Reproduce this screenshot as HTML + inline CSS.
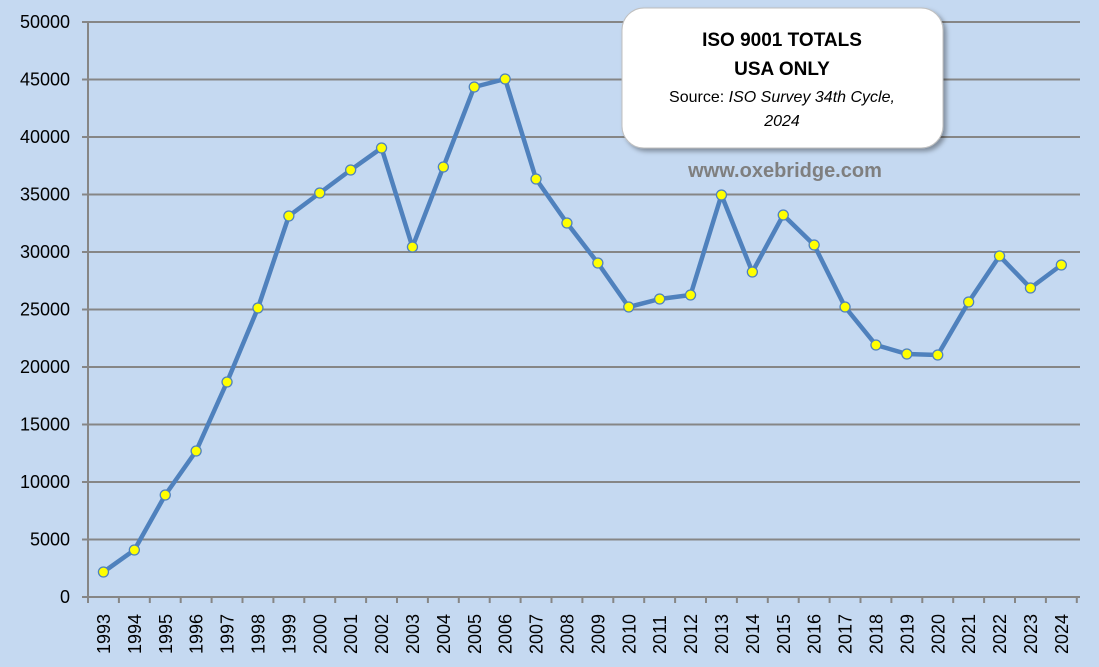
<!DOCTYPE html>
<html><head><meta charset="utf-8"><style>
html,body{margin:0;padding:0;background:#c5d9f1;}
svg{display:block;font-family:"Liberation Sans",Calibri,sans-serif;}
</style></head><body>
<svg width="1099" height="667" viewBox="0 0 1099 667" xmlns="http://www.w3.org/2000/svg">
<defs><filter id="sh" x="-10%" y="-10%" width="125%" height="130%"><feDropShadow dx="3" dy="3" stdDeviation="2.5" flood-color="#000" flood-opacity="0.35"/></filter></defs>
<rect width="1099" height="667" fill="#c5d9f1"/>
<g stroke="#868686" stroke-width="2">
<line x1="82" y1="22" x2="1080" y2="22"/>
<line x1="82" y1="79.5" x2="1080" y2="79.5"/>
<line x1="82" y1="137" x2="1080" y2="137"/>
<line x1="82" y1="194.5" x2="1080" y2="194.5"/>
<line x1="82" y1="252" x2="1080" y2="252"/>
<line x1="82" y1="309.5" x2="1080" y2="309.5"/>
<line x1="82" y1="367" x2="1080" y2="367"/>
<line x1="82" y1="424.5" x2="1080" y2="424.5"/>
<line x1="82" y1="482" x2="1080" y2="482"/>
<line x1="82" y1="539.5" x2="1080" y2="539.5"/>
<line x1="82" y1="597" x2="1080" y2="597"/>
<line x1="88" y1="22" x2="88" y2="603"/>
</g>
<g stroke="#868686" stroke-width="2" id="ticks"></g>
<g font-size="18" fill="#000" text-anchor="end">
<text x="70" y="28">50000</text><text x="70" y="85.5">45000</text><text x="70" y="143">40000</text><text x="70" y="200.5">35000</text><text x="70" y="258">30000</text><text x="70" y="315.5">25000</text><text x="70" y="373">20000</text><text x="70" y="430.5">15000</text><text x="70" y="488">10000</text><text x="70" y="545.5">5000</text><text x="70" y="603">0</text>
</g>
<g id="xl" font-size="18" fill="#000"></g>
<polyline id="ln" fill="none" stroke="#4f81bd" stroke-width="4.5" stroke-linejoin="round" points=""/>
<g id="pts"></g>
<rect x="622" y="8" width="321" height="140" rx="22" fill="#fff" stroke="#bfbfbf" stroke-width="1" filter="url(#sh)"/>
<g text-anchor="middle" fill="#000">
<text x="782" y="46" font-size="19" font-weight="bold">ISO 9001 TOTALS</text>
<text x="782" y="75" font-size="19" font-weight="bold">USA ONLY</text>
<text x="782" y="102" font-size="16">Source: <tspan font-style="italic">ISO Survey 34th Cycle,</tspan></text>
<text x="782" y="126" font-size="16" font-style="italic">2024</text>
<text x="785" y="177" font-size="20" font-weight="bold" fill="#7f7f7f">www.oxebridge.com</text>
</g>
<script>
var ys=[572,550,495,451,382,308,216,193,170,148,247,167,87,79,179,223,263,307,299,295,195,272,215,245,307,345,354,355,302,256,288,265];
var step=30.9,ns="http://www.w3.org/2000/svg",p=[],pts=document.getElementById('pts'),xl=document.getElementById('xl'),tk=document.getElementById('ticks');
for(var i=0;i<=32;i++){var l=document.createElementNS(ns,'line');var x=88+i*step;l.setAttribute('x1',x);l.setAttribute('x2',x);l.setAttribute('y1',597);l.setAttribute('y2',603);tk.appendChild(l);}
for(var i=0;i<32;i++){var x=88+step/2+i*step;p.push(x+','+ys[i]);
var c=document.createElementNS(ns,'circle');c.setAttribute('cx',x);c.setAttribute('cy',ys[i]);c.setAttribute('r',5);c.setAttribute('fill','#ffff00');c.setAttribute('stroke','#4f81bd');c.setAttribute('stroke-width',1.3);pts.appendChild(c);
var t=document.createElementNS(ns,'text');t.setAttribute('transform','translate('+(x+6.5)+',654) rotate(-90)');t.textContent=1993+i;xl.appendChild(t);}
document.getElementById('ln').setAttribute('points',p.join(' '));
</script>
</svg>
</body></html>
